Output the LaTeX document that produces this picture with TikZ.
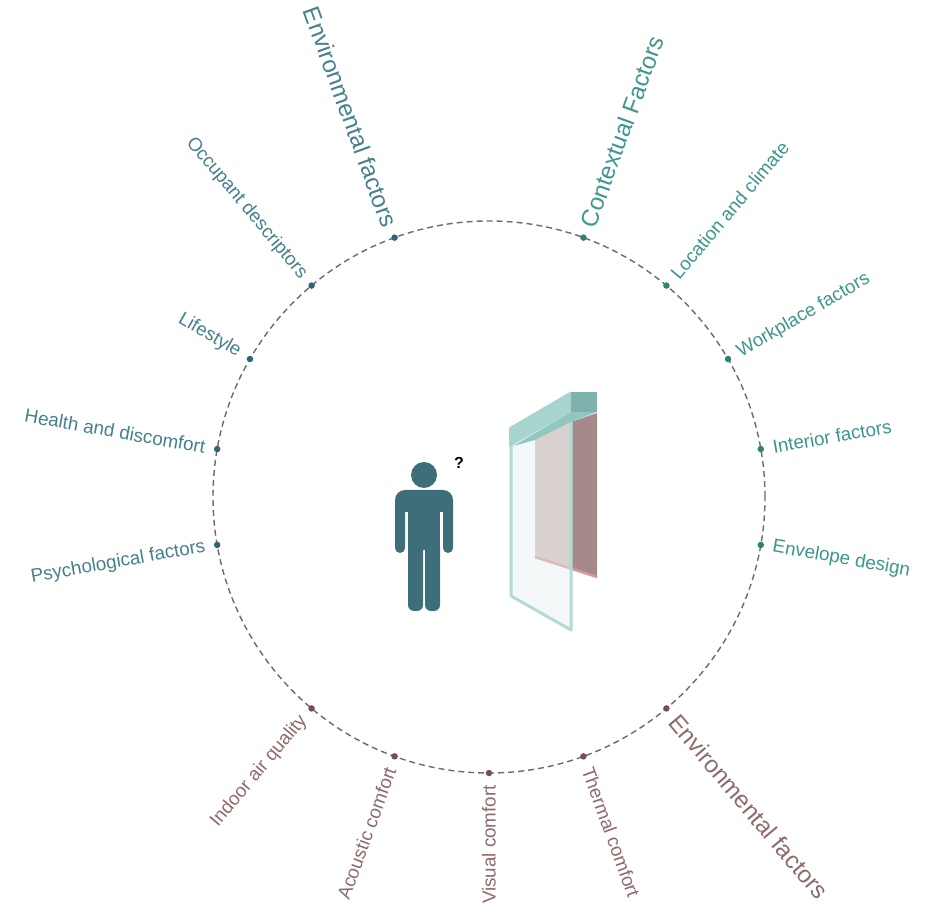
\documentclass[tikz,border=0pt]{standalone}
\usepackage{fontspec}
\setmainfont{Liberation Sans}

\definecolor{occtext}{HTML}{44808D}
\definecolor{occdot}{HTML}{2E6572}
\definecolor{ctxtext}{HTML}{3C968E}
\definecolor{ctxdot}{HTML}{2C8179}
\definecolor{envtext}{HTML}{8E6A6A}
\definecolor{envdot}{HTML}{774F4F}
\definecolor{ring}{HTML}{6E6A6A}
\definecolor{person}{HTML}{3F6E7B}
% window colours
\definecolor{glassfill}{HTML}{E4EDED}
\definecolor{glassedge}{HTML}{B3DBD5}
\definecolor{headfront}{HTML}{A7D4CF}
\definecolor{headend}{HTML}{7FB2AD}
\definecolor{headunder}{HTML}{92C7C1}
\definecolor{blindlight}{HTML}{D2BDBE}
\definecolor{blinddark}{HTML}{A68989}
\definecolor{blindrod}{HTML}{D39A9E}

\newcommand{\smallfont}{\fontsize{18.8}{21}\selectfont}
\newcommand{\bigfont}{\fontsize{24}{27}\selectfont}

\begin{document}
\begin{tikzpicture}[x=1pt,y=1pt,
    dot/.style={circle,inner sep=0pt,minimum size=6.5pt},
    factor/.style={inner sep=1pt}]
  \useasboundingbox (0,0) rectangle (925,915);
  \coordinate (c) at (489,418);
  \def\rad{276}
  %
  \draw[ring,line width=1.4pt,dash pattern=on 6pt off 4pt] (c) circle (\rad);
  %
  % labels on the left half: text ends at the ring
  \foreach \a/\tc/\dc/\fs/\txt [count=\i] in {
      110/occtext/occdot/\bigfont/Environmental factors,
      130/occtext/occdot/\smallfont/Occupant descriptors,
      150/occtext/occdot/\smallfont/Lifestyle,
      170/occtext/occdot/\smallfont/Health and discomfort,
      190/occtext/occdot/\smallfont/Psychological factors,
      230/envtext/envdot/\smallfont/Indoor air quality,
      250/envtext/envdot/\smallfont/Acoustic comfort,
      270/envtext/envdot/\smallfont/Visual comfort}{
    \node[dot,fill=\dc] (ldot\i) at ([shift={(\a:\rad)}]c) {};
    \node[factor,text=\tc,font=\fs,anchor=east,rotate=\a+180] (lbl\i)
      at ([shift={(\a:\rad+11)}]c) {\txt};
  }
  % labels on the right half: text starts at the ring
  \foreach \a/\tc/\dc/\fs/\txt [count=\i] in {
      70/ctxtext/ctxdot/\bigfont/Contextual Factors,
      50/ctxtext/ctxdot/\smallfont/Location and climate,
      30/ctxtext/ctxdot/\smallfont/Workplace factors,
      10/ctxtext/ctxdot/\smallfont/Interior factors,
      -10/ctxtext/ctxdot/\smallfont/Envelope design,
      -70/envtext/envdot/\smallfont/Thermal comfort,
      -50/envtext/envdot/\bigfont/Environmental factors}{
    \node[dot,fill=\dc] (rdot\i) at ([shift={(\a:\rad)}]c) {};
    \node[factor,text=\tc,font=\fs,anchor=west,rotate=\a] (rbl\i)
      at ([shift={(\a:\rad+11)}]c) {\txt};
  }
  %
  \begin{scope}[yshift=915pt,yscale=-1]
    % occupant
    \fill[person] (424,475) circle (13);
    \fill[person,rounded corners=10] (395,490) rectangle (453,512);
    \fill[person,rounded corners=5] (395,498) rectangle (405,553);
    \fill[person,rounded corners=5] (443,498) rectangle (453,553);
    \fill[person] (408,492) rectangle (440,550);
    \fill[person,rounded corners=6] (408,540) rectangle (423,611);
    \fill[person,rounded corners=6] (425,540) rectangle (440,611);
    %
    % window with blind behind the glass
    \fill[blindlight] (535,440) -- (571,421) -- (571,568) -- (535,557) -- cycle;
    \fill[blinddark] (571,422) -- (597,413) -- (597,577) -- (571,568) -- cycle;
    \draw[blindrod,line width=2.5pt] (535,557) -- (597,577);
    \filldraw[fill=glassfill,fill opacity=.4,draw=glassedge,line width=3pt,
      line join=round] (511,428) -- (571,393) -- (571,630) -- (511,596) -- cycle;
    \fill[headunder] (513,446) -- (571,412) -- (597,412) -- (571,422) -- (535,440) -- cycle;
    \fill[headfront] (509,428) -- (571,392) -- (571,412) -- (509,447) -- cycle;
    \fill[headend] (571,392) rectangle (597,412);
  \end{scope}
  \node[font=\bfseries\fontsize{16}{18}\selectfont] (query) at (459,452) {?};
\end{tikzpicture}
\end{document}
